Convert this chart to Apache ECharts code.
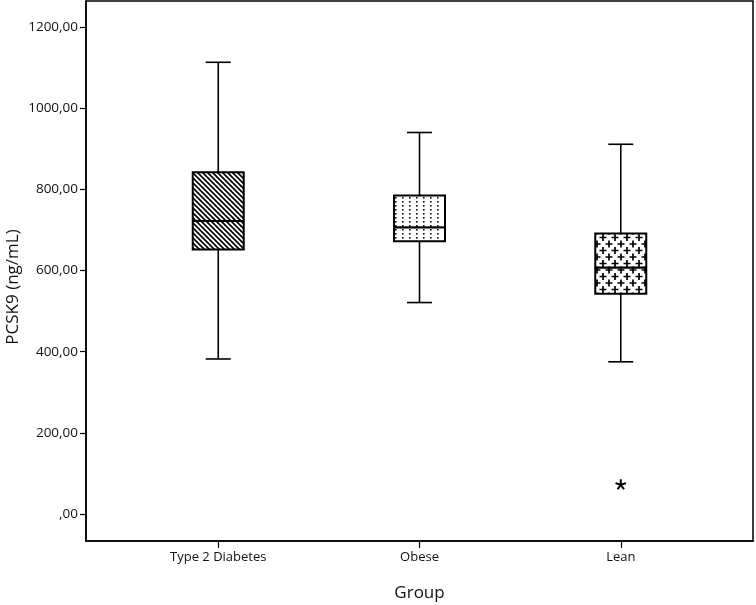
<!DOCTYPE html>
<html>
<head>
<meta charset="utf-8">
<script src="https://cdn.jsdelivr.net/npm/echarts@6/dist/echarts.min.js"></script>
<style>html,body{margin:0;padding:0;background:#fff}#c{width:756px;height:605px}</style>
</head>
<body>
<div id="c"></div>
<script>
// ---- data ----
const categories = ['Type 2 Diabetes', 'Obese', 'Lean'];
const whiskerLow  = [382, 521, 375];
const q1          = [652, 672, 543];
const median      = [722, 706, 607];
const q3          = [842, 785, 691];
const whiskerHigh = [1113, 940, 911];
const outliers    = [[3, 72]];   // [group position, value]
const yTicks      = [0, 200, 400, 600, 800, 1000, 1200];
const xPositions  = [1, 2, 3];

// ---- patterns ----
function makeHatch() {
  const s = 5;
  const c = document.createElement('canvas'); c.width = s; c.height = s;
  const g = c.getContext('2d');
  g.fillStyle = '#fff'; g.fillRect(0, 0, s, s);
  g.strokeStyle = '#000'; g.lineWidth = 1.7;
  g.beginPath();
  g.moveTo(-1, -1); g.lineTo(s + 1, s + 1);
  g.moveTo(-s - 1, -1); g.lineTo(1, s + 1);
  g.moveTo(s - 1, -1); g.lineTo(2 * s + 1, s + 1);
  g.stroke();
  return c;
}
function makeDots() {
  const c = document.createElement('canvas'); c.width = 7; c.height = 4;
  const g = c.getContext('2d');
  g.fillStyle = '#fff'; g.fillRect(0, 0, 7, 4);
  g.fillStyle = '#111'; g.fillRect(3, 1, 1.6, 1.6);
  return c;
}
function makePlus() {
  const c = document.createElement('canvas'); c.width = 12; c.height = 13;
  const g = c.getContext('2d');
  g.fillStyle = '#fff'; g.fillRect(0, 0, 12, 13);
  g.strokeStyle = '#000'; g.lineWidth = 1.7;
  function plus(x, y) {
    g.beginPath();
    g.moveTo(x - 3.5, y); g.lineTo(x + 3.5, y);
    g.moveTo(x, y - 3.5); g.lineTo(x, y + 3.5);
    g.stroke();
  }
  plus(3, 3.5); plus(9, 10); plus(-3, 10); plus(15, 3.5); plus(9, -3); plus(3, 16.5);
  return c;
}
const patterns = [makeHatch(), makeDots(), makePlus()];

const boxData = xPositions.map((x, i) => [x, whiskerLow[i], q1[i], median[i], q3[i], whiskerHigh[i]]);

const chart = echarts.init(document.getElementById('c'), null, {renderer: 'canvas'});
const font = '"Open Sans", "DejaVu Sans", sans-serif';

chart.setOption({
  animation: false,
  backgroundColor: '#fff',
  grid: {left: 86, right: 3, top: 1, bottom: 64, outerBoundsMode: 'none', containLabel: false,
    show: true, borderColor: '#000', borderWidth: 1.5, backgroundColor: 'transparent'},
  xAxis: {
    type: 'value', min: 0.343, max: 3.657,
    name: 'Group', nameLocation: 'middle', nameGap: 44, nameMoveOverlap: false,
    nameTextStyle: {fontFamily: font, fontSize: 17, color: '#111'},
    splitLine: {show: false},
    axisLine: {show: true, onZero: false, lineStyle: {color: '#000', width: 1.5}},
    axisTick: {show: true, customValues: xPositions, length: 7, lineStyle: {color: '#000', width: 1.2}},
    axisLabel: {customValues: xPositions, margin: 10, fontFamily: font, fontSize: 13, color: '#111',
      formatter: v => categories[Math.round(v) - 1] || ''}
  },
  yAxis: {
    type: 'value', min: -66.5, max: 1264,
    name: 'PCSK9 (ng/mL)', nameLocation: 'middle', nameGap: 64, nameMoveOverlap: false,
    nameTextStyle: {fontFamily: font, fontSize: 17, color: '#111', padding: [0, 32, 0, 0]},
    splitLine: {show: false},
    axisLine: {show: true, onZero: false, lineStyle: {color: '#000', width: 1.5}},
    axisTick: {show: true, customValues: yTicks, length: 6, lineStyle: {color: '#000', width: 1.2}},
    axisLabel: {customValues: yTicks, margin: 8, fontFamily: font, fontSize: 13.5, color: '#111',
      formatter: v => (v === 0 ? '' : String(v)) + ',00'}
  },
  series: [
    {
      type: 'custom',
      data: boxData,
      renderItem: function (params, api) {
        const x = api.value(0);
        const pMin = api.coord([x, api.value(1)]);
        const pQ1 = api.coord([x, api.value(2)]);
        const pMed = api.coord([x, api.value(3)]);
        const pQ3 = api.coord([x, api.value(4)]);
        const pMax = api.coord([x, api.value(5)]);
        const cx = pMin[0];
        const bw = 51, cw = 25;
        const lineStyle = {stroke: '#000', lineWidth: 1.6};
        return {
          type: 'group',
          children: [
            {type: 'line', shape: {x1: cx, y1: pMax[1], x2: cx, y2: pQ3[1]}, style: lineStyle},
            {type: 'line', shape: {x1: cx, y1: pQ1[1], x2: cx, y2: pMin[1]}, style: lineStyle},
            {type: 'line', shape: {x1: cx - cw / 2, y1: pMax[1], x2: cx + cw / 2, y2: pMax[1]}, style: lineStyle},
            {type: 'line', shape: {x1: cx - cw / 2, y1: pMin[1], x2: cx + cw / 2, y2: pMin[1]}, style: lineStyle},
            {type: 'rect', shape: {x: cx - bw / 2, y: pQ3[1], width: bw, height: pQ1[1] - pQ3[1]},
              style: {fill: {image: patterns[params.dataIndex], repeat: 'repeat'}, stroke: '#000', lineWidth: 2}},
            {type: 'line', shape: {x1: cx - bw / 2, y1: pMed[1], x2: cx + bw / 2, y2: pMed[1]}, style: {stroke: '#000', lineWidth: 2.2}}
          ]
        };
      }
    },
    {
      type: 'custom',
      data: outliers,
      renderItem: function (params, api) {
        const p = api.coord([api.value(0), api.value(1)]);
        const r = 5.5, kids = [];
        for (let k = 0; k < 5; k++) {
          const a = -Math.PI / 2 + k * 2 * Math.PI / 5;
          kids.push({type: 'line', shape: {x1: p[0], y1: p[1], x2: p[0] + r * Math.cos(a), y2: p[1] + r * Math.sin(a)},
            style: {stroke: '#000', lineWidth: 2}});
        }
        return {type: 'group', children: kids};
      }
    }
  ]
});
</script>
</body>
</html>
